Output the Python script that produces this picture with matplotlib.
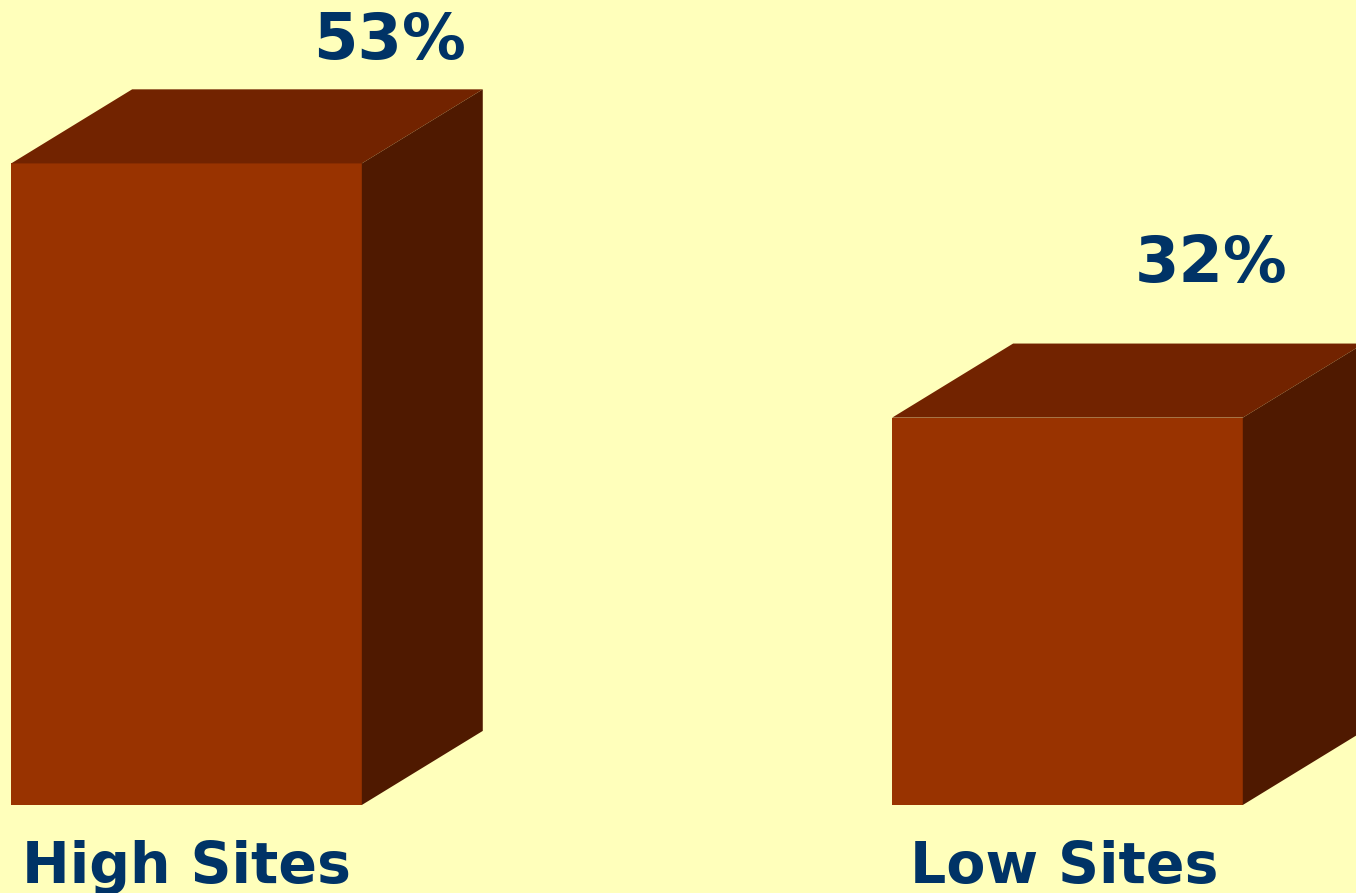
import numpy as np
import matplotlib
matplotlib.use("Agg")
from matplotlib import pyplot as plt
from matplotlib.patches import Polygon

categories = ["High Sites", "Low Sites"]
values = [53, 32]
value_labels = ["53%", "32%"]

bg = "#FFFFBB"
front_col = "#993300"
top_col = "#722300"
side_col = "#4F1900"
text_col = "#003366"

width = 0.398      # bar width in x units
dx = 0.1373        # depth offset in x
dy = 6.12          # depth offset in y (percent units)

fig = plt.figure(figsize=(13.56, 8.93), dpi=100)
fig.patch.set_facecolor(bg)
ax = fig.add_axes([0, 0, 1, 1])
ax.set_facecolor(bg)
ax.set_xlim(-0.2117, 1.3275)
ax.set_ylim(-7.27, 66.5)
ax.axis("off")

xs = np.arange(len(categories))
ax.bar(xs, values, width=width, color=front_col, linewidth=0, zorder=2)

for x, v in zip(xs, values):
    l, r = x - width / 2, x + width / 2
    top = Polygon([(l, v), (r, v), (r + dx, v + dy), (l + dx, v + dy)],
                  closed=True, facecolor=top_col, edgecolor="none", zorder=2)
    side = Polygon([(r, 0), (r + dx, dy), (r + dx, v + dy), (r, v)],
                   closed=True, facecolor=side_col, edgecolor="none", zorder=2)
    ax.add_patch(top)
    ax.add_patch(side)

# value labels, placed by hand like the original slide
label_dx = [0.23, 0.163]
label_dy = [2.5, 5.1]
for x, v, lab, ox, oy in zip(xs, values, value_labels, label_dx, label_dy):
    ax.text(x + ox, v + dy + oy, lab, ha="center", va="baseline",
            fontsize=46, fontweight="bold", family="DejaVu Sans",
            color=text_col)

cat_dx = [0.012, 0.02]
for x, c, ox in zip(xs, categories, cat_dx):
    ax.text(x - width / 2 + ox, -6.45, c, ha="left", va="baseline",
            fontsize=41, fontweight="bold", family="DejaVu Sans",
            color=text_col)

fig.savefig("out.png", dpi=100, facecolor=bg)
